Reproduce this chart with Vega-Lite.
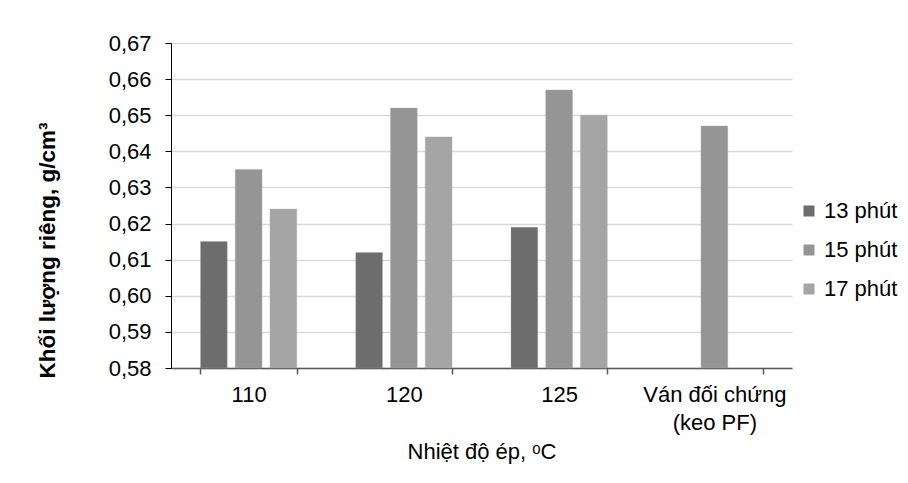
{
  "$schema": "https://vega.github.io/schema/vega-lite/v6.json",
  "width": 621,
  "height": 325,
  "autosize": {"type": "none"},
  "padding": {"left": 171, "top": 43, "right": 116, "bottom": 115},
  "background": "white",
  "data": {
    "values": [
      {"nhiet": "110", "thoigian": "13 phút", "value": 0.615},
      {"nhiet": "110", "thoigian": "15 phút", "value": 0.635},
      {"nhiet": "110", "thoigian": "17 phút", "value": 0.624},
      {"nhiet": "120", "thoigian": "13 phút", "value": 0.612},
      {"nhiet": "120", "thoigian": "15 phút", "value": 0.652},
      {"nhiet": "120", "thoigian": "17 phút", "value": 0.644},
      {"nhiet": "125", "thoigian": "13 phút", "value": 0.619},
      {"nhiet": "125", "thoigian": "15 phút", "value": 0.657},
      {"nhiet": "125", "thoigian": "17 phút", "value": 0.650},
      {"nhiet": "Ván đối chứng (keo PF)", "thoigian": "15 phút", "value": 0.647}
    ]
  },
  "mark": {"type": "bar", "stroke": "#a8a8a8", "strokeWidth": 0.6, "strokeOpacity": 0.6},
  "encoding": {
    "x": {
      "field": "nhiet",
      "type": "nominal",
      "sort": ["110", "120", "125", "Ván đối chứng (keo PF)"],
      "scale": {"paddingInner": 0.38, "paddingOuter": 0.19},
      "axis": {
        "title": "Nhiệt độ ép, ᵒC",
        "labelAngle": 0,
        "labelExpr": "datum.value == 'Ván đối chứng (keo PF)' ? ['Ván đối chứng', '(keo PF)'] : datum.value",
        "labelLineHeight": 28,
        "labelPadding": 10,
        "titlePadding": 8,
        "tickBand": "extent",
        "tickSize": 6,
        "tickColor": "#595959",
        "domainColor": "#595959",
        "domainWidth": 1.5,
        "tickWidth": 1.5,
        "grid": false
      }
    },
    "xOffset": {
      "field": "thoigian",
      "type": "nominal",
      "sort": ["13 phút", "15 phút", "17 phút"],
      "scale": {"domain": ["13 phút", "15 phút", "17 phút"], "paddingInner": 0.23, "paddingOuter": 0}
    },
    "y": {
      "field": "value",
      "type": "quantitative",
      "scale": {"domain": [0.58, 0.67], "zero": false, "nice": false},
      "axis": {
        "title": "Khối lượng riêng, g/cm³",
        "titleFontWeight": "bold",
        "titleFontSize": 22.5,
        "titleY": 207,
        "values": [0.58, 0.59, 0.6, 0.61, 0.62, 0.63, 0.64, 0.65, 0.66, 0.67],
        "labelExpr": "replace(format(datum.value, '.2f'), '.', ',')",
        "labelPadding": 14,
        "titlePadding": 49,
        "tickSize": 6,
        "tickColor": "#000000",
        "domainColor": "#000000",
        "gridColor": "#d9d9d9",
        "gridWidth": 1.5
      }
    },
    "y2": {"datum": 0.58},
    "color": {
      "field": "thoigian",
      "type": "nominal",
      "scale": {"domain": ["13 phút", "15 phút", "17 phút"], "range": ["#6d6d6d", "#959595", "#a5a5a5"]},
      "legend": {
        "title": null,
        "orient": "none",
        "legendX": 627,
        "legendY": 157,
        "symbolType": "square",
        "symbolSize": 121,
        "symbolStrokeWidth": 0,
        "labelFontSize": 22,
        "labelOffset": 4,
        "rowPadding": 17
      }
    }
  },
  "config": {
    "font": "Liberation Sans",
    "view": {"stroke": null},
    "axis": {
      "labelFont": "Liberation Sans",
      "titleFont": "Liberation Sans",
      "labelFontSize": 22,
      "titleFontSize": 22,
      "labelColor": "#000000",
      "titleColor": "#000000",
      "titleFontWeight": "normal"
    },
    "legend": {"labelFont": "Liberation Sans", "labelColor": "#000000"}
  }
}
